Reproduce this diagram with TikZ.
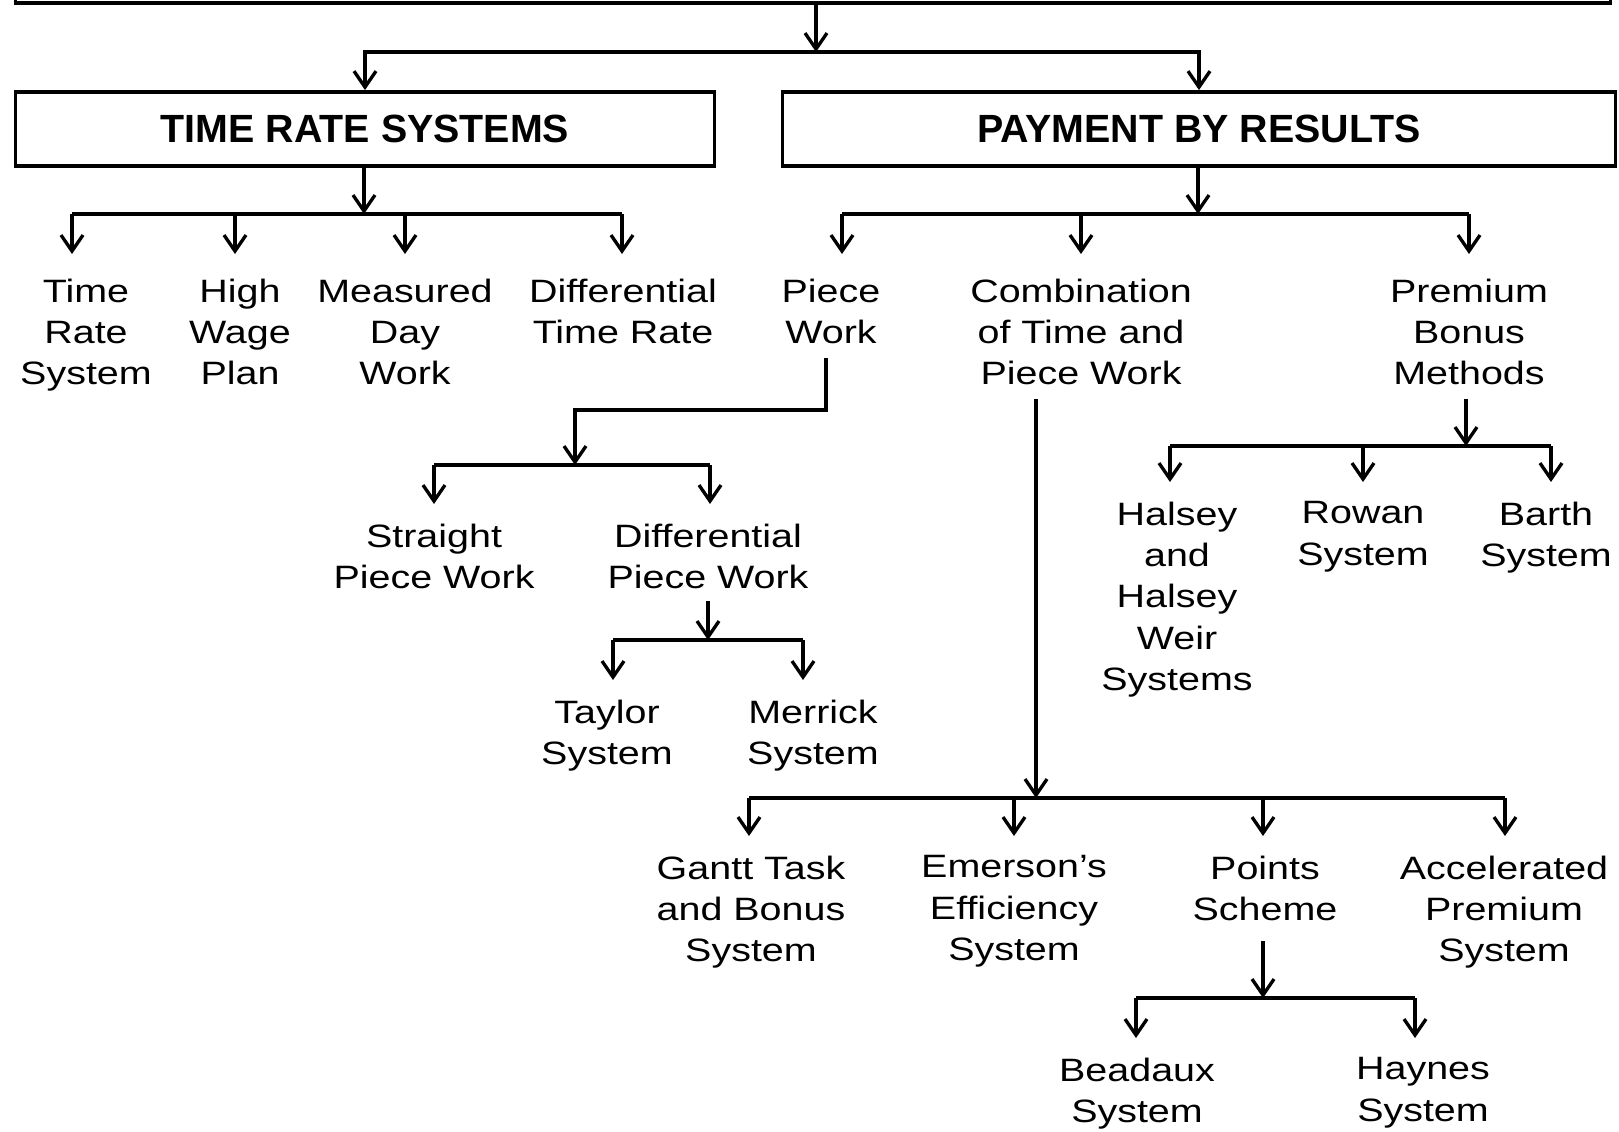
\documentclass[tikz,border=0pt]{standalone}
\usepackage{fontspec}
\setmainfont{Liberation Sans}[FakeStretch=1.22]
\newfontfamily\titlefont{Liberation Sans}
\usepackage{tikz}
\usetikzlibrary{arrows.meta}
\tikzset{
  box/.style={draw, line width=1.1pt, minimum height=0.74cm, inner sep=0pt, font=\titlefont\bfseries\fontsize{11.2}{13}\selectfont},
  leaf/.style={align=center, inner sep=0pt, anchor=north, font=\fontsize{9.2}{11.75}\selectfont},
  conn/.style={line width=0.95pt},
  arr/.style={conn, -{Straight Barb[length=1.6mm,width=2.2mm]}},
  tonode/.style={arr, shorten >=0.19cm},
}

\begin{document}
\begin{tikzpicture}
\useasboundingbox (0,0) rectangle (16.19,-11.31);

% top box, cut off by the page
\node[box, minimum width=15.95cm, minimum height=1cm, anchor=south] (root) at (8.13,-0.05) {};
\node[box, minimum width=6.99cm] (trs) at (3.65,-1.29) {TIME RATE SYSTEMS};
\node[box, minimum width=8.33cm] (pbr) at (11.99,-1.29) {PAYMENT BY RESULTS};
\coordinate (j0) at (8.16,-0.52);
\draw[arr] (j0 |- root.south) -- (j0);
\draw[arr] (j0) -| (trs);
\draw[arr] (j0) -| (pbr);

% time rate systems
\node[leaf] (tr1) at (0.86,-2.78) {Time\\Rate\\System};
\node[leaf] (tr2) at (2.40,-2.78) {High\\Wage\\Plan};
\node[leaf] (tr3) at (4.05,-2.78) {Measured\\Day\\Work};
\node[leaf] (tr4) at (6.23,-2.78) {Differential\\Time Rate};
\coordinate (jt) at (3.64,-2.14);
\coordinate (t1) at (0.72,-2.14);
\coordinate (t2) at (2.35,-2.14);
\coordinate (t3) at (4.05,-2.14);
\coordinate (t4) at (6.22,-2.14);
\draw[arr] (jt |- trs.south) -- (jt);
\draw[conn] (t1) -- (t4);
\foreach \i in {1,...,4}
  \draw[tonode, shorten >=0.24cm] (t\i) -- (t\i |- tr\i.north);

% payment by results
\node[leaf] (pr1) at (8.31,-2.78) {Piece\\Work};
\node[leaf] (pr2) at (10.81,-2.78) {Combination\\of Time and\\Piece Work};
\node[leaf] (pr3) at (14.69,-2.78) {Premium\\Bonus\\Methods};
\coordinate (jr) at (11.98,-2.14);
\coordinate (r1) at (8.42,-2.14);
\coordinate (r2) at (10.81,-2.14);
\coordinate (r3) at (14.69,-2.14);
\draw[arr] (jr |- pbr.south) -- (jr);
\draw[conn] (r1) -- (r3);
\foreach \i in {1,...,3}
  \draw[tonode, shorten >=0.24cm] (r\i) -- (r\i |- pr\i.north);

% piece work
\node[leaf] (pw1) at (4.34,-5.23) {Straight\\Piece Work};
\node[leaf] (pw2) at (7.08,-5.23) {Differential\\Piece Work};
\coordinate (pk) at (8.26,-4.10);
\coordinate (jp) at (5.75,-4.65);
\coordinate (p1) at (4.34,-4.65);
\coordinate (p2) at (7.10,-4.65);
\draw[arr, shorten <=0.14cm] (pk |- pr1.south) -- (pk) -| (jp);
\draw[conn] (p1) -- (p2);
\foreach \i in {1,2}
  \draw[tonode] (p\i) -- (p\i |- pw\i.north);

% differential piece work
\node[leaf] (dp1) at (6.07,-6.99) {Taylor\\System};
\node[leaf] (dp2) at (8.13,-6.99) {Merrick\\System};
\coordinate (jd) at (7.08,-6.40);
\coordinate (d1) at (6.13,-6.40);
\coordinate (d2) at (8.03,-6.40);
\draw[arr, shorten <=0.12cm] (jd |- pw2.south) -- (jd);
\draw[conn] (d1) -- (d2);
\foreach \i in {1,2}
  \draw[tonode] (d\i) -- (d\i |- dp\i.north);

% premium bonus methods
\node[leaf] (pb1) at (11.77,-5.01) {Halsey\\and\\Halsey\\Weir\\Systems};
\node[leaf] (pb2) at (13.63,-5.01) {Rowan\\System};
\node[leaf] (pb3) at (15.46,-5.01) {Barth\\System};
\coordinate (jm) at (14.66,-4.46);
\coordinate (m1) at (11.70,-4.46);
\coordinate (m2) at (13.63,-4.46);
\coordinate (m3) at (15.51,-4.46);
\draw[arr, shorten <=0.13cm] (jm |- pr3.south) -- (jm);
\draw[conn] (m1) -- (m3);
\foreach \i in {1,...,3}
  \draw[tonode] (m\i) -- (m\i |- pb\i.north);

% combination of time and piece work
\node[leaf] (cb1) at (7.51,-8.55) {Gantt Task\\and Bonus\\System};
\node[leaf] (cb2) at (10.14,-8.55) {Emerson’s\\Efficiency\\System};
\node[leaf] (cb3) at (12.65,-8.55) {Points\\Scheme};
\node[leaf] (cb4) at (15.04,-8.55) {Accelerated\\Premium\\System};
\coordinate (jc) at (10.36,-7.98);
\coordinate (c1) at (7.49,-7.98);
\coordinate (c2) at (10.14,-7.98);
\coordinate (c3) at (12.63,-7.98);
\coordinate (c4) at (15.05,-7.98);
\draw[arr, shorten <=0.13cm] (jc |- pr2.south) -- (jc);
\draw[conn] (c1) -- (c4);
\foreach \i in {1,...,4}
  \draw[tonode] (c\i) -- (c\i |- cb\i.north);

% points scheme
\node[leaf] (ps1) at (11.37,-10.57) {Beadaux\\System};
\node[leaf] (ps2) at (14.23,-10.57) {Haynes\\System};
\coordinate (js) at (12.63,-9.98);
\coordinate (s1) at (11.36,-9.98);
\coordinate (s2) at (14.15,-9.98);
\draw[arr, shorten <=0.2cm] (js |- cb3.south) -- (js);
\draw[conn] (s1) -- (s2);
\foreach \i in {1,2}
  \draw[tonode] (s\i) -- (s\i |- ps\i.north);
\end{tikzpicture}
\end{document}
